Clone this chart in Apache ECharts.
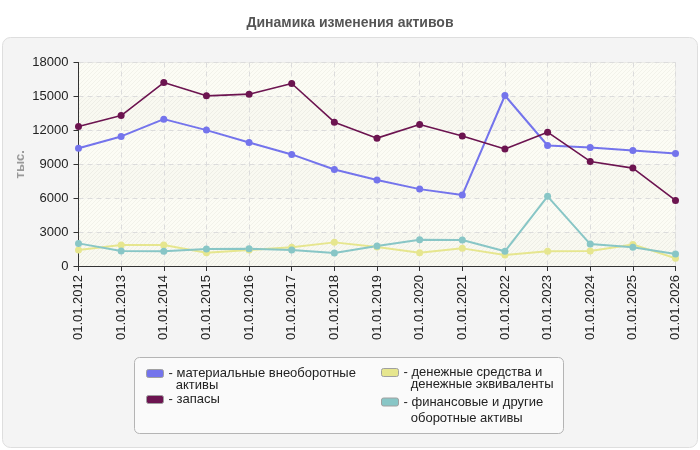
<!DOCTYPE html>
<html><head><meta charset="utf-8">
<script src="https://cdn.jsdelivr.net/npm/echarts@6/dist/echarts.min.js"></script>
<style>html,body{margin:0;padding:0;background:#fff}#c{width:700px;height:450px}</style>
</head><body><div id="c"></div>
<script>
var categories = ['01.01.2012','01.01.2013','01.01.2014','01.01.2015','01.01.2016','01.01.2017','01.01.2018','01.01.2019','01.01.2020','01.01.2021','01.01.2022','01.01.2023','01.01.2024','01.01.2025','01.01.2026'];
var seriesNames = ['материальные внеоборотные активы','запасы','денежные средства и денежные эквиваленты','финансовые и другие оборотные активы'];
var legendLabels = ['\n- материальные внеоборотные\n  активы','- запасы','\n- денежные средства и\n  денежные эквиваленты','\n- финансовые и другие\n  оборотные активы'];
var material = [10420, 11460, 12990, 12020, 10930, 9870, 8540, 7600, 6800, 6270, 15080, 10660, 10480, 10220, 9950];
var zapasy = [12340, 13310, 16230, 15050, 15200, 16140, 12720, 11310, 12520, 11490, 10340, 11840, 9250, 8660, 5800];
var cash = [1410, 1850, 1850, 1180, 1410, 1650, 2090, 1680, 1180, 1560, 970, 1300, 1320, 1910, 680];
var fin = [2000, 1320, 1300, 1500, 1530, 1410, 1150, 1770, 2330, 2300, 1300, 6160, 1940, 1650, 1060];
var yTicks = {min: 0, max: 18000, interval: 3000};
var colors = ['#7474ec', '#6c1450', '#e6e68e', '#88c6c6'];
var FONT = 'Liberation Sans, Arial, sans-serif';

function hatch(base, line) {
  var c = document.createElement('canvas'); c.width = 4; c.height = 4;
  var g = c.getContext('2d');
  g.fillStyle = base; g.fillRect(0, 0, 4, 4);
  g.strokeStyle = line; g.lineWidth = 1;
  g.beginPath(); g.moveTo(0, 4); g.lineTo(4, 0); g.moveTo(-1, 1); g.lineTo(1, -1); g.moveTo(3, 5); g.lineTo(5, 3); g.stroke();
  return {image: c, repeat: 'repeat'};
}

var chart = echarts.init(document.getElementById('c'), null, {renderer: 'canvas'});
var dataSets = [material, zapasy, cash, fin];
var series = dataSets.map(function (d, i) {
  return {
    name: seriesNames[i], type: 'line', data: d,
    symbol: 'circle', symbolSize: 7, showSymbol: true,
    lineStyle: {width: i === 1 ? 1.6 : 2, color: colors[i]},
    itemStyle: {color: colors[i]},
    emphasis: {disabled: true}, animation: false
  };
});

var legPos = [
  {left: 146, top: 355, lh: 12},
  {left: 146, top: 393, lh: 12},
  {left: 381, top: 354, lh: 12},
  {left: 381, top: 378, lh: 16}
];
var legends = seriesNames.map(function (n, i) {
  return {
    left: legPos[i].left, top: legPos[i].top, orient: 'vertical', padding: 0,
    itemWidth: 17, itemHeight: 8, itemGap: 0, selectedMode: false,
    icon: 'roundRect',
    itemStyle: {borderColor: '#a0a0a0', borderWidth: 1},
    formatter: function () { return legendLabels[i]; },
    data: [n],
    textStyle: {fontSize: 13, color: '#222', lineHeight: legPos[i].lh, fontFamily: FONT}
  };
});

chart.setOption({
  animation: false,
  color: colors,
  textStyle: {fontFamily: FONT},
  title: {text: 'Динамика изменения активов', left: 'center', top: 11,
    textStyle: {fontSize: 14, fontWeight: 'bold', color: '#555', fontFamily: FONT}},
  graphic: [
    {type: 'rect', z: -10, shape: {x: 2.5, y: 37.5, width: 695, height: 410, r: 8}, style: {fill: '#f4f4f4', stroke: '#dedede', lineWidth: 1}},
    {type: 'rect', z: -5, shape: {x: 134.5, y: 357.5, width: 429, height: 76, r: 5}, style: {fill: '#fafafa', stroke: '#b4b4b4', lineWidth: 1}}
  ],
  legend: legends,
  grid: {left: 78.5, right: 24.5, top: 62.5, bottom: 184, containLabel: false, outerBoundsMode: 'none',
    show: true, borderColor: '#dcdcdc', borderWidth: 1, backgroundColor: 'transparent'},
  xAxis: {
    type: 'category', data: categories, boundaryGap: false,
    axisLine: {lineStyle: {color: '#333', width: 1}},
    axisTick: {show: true, length: 5, lineStyle: {color: '#333'}},
    axisLabel: {rotate: 90, fontSize: 13, color: '#222', margin: 9, interval: 0},
    splitLine: {show: true, lineStyle: {color: '#dcdcdc', type: [5, 4]}}
  },
  yAxis: {
    type: 'value', min: yTicks.min, max: yTicks.max, interval: yTicks.interval,
    name: 'тыс.', nameLocation: 'middle', nameGap: 52, nameRotate: 90, nameMoveOverlap: false,
    nameTextStyle: {color: '#999', fontSize: 13, fontWeight: 'bold'},
    axisLine: {show: true, lineStyle: {color: '#333', width: 1}},
    axisTick: {show: true, length: 5, lineStyle: {color: '#333'}},
    axisLabel: {fontSize: 13, color: '#222', margin: 10, formatter: function (v) { return String(v); }},
    splitLine: {show: true, lineStyle: {color: '#dcdcdc', type: [5, 4]}},
    splitArea: {show: true, areaStyle: {color: [hatch('#f9f9f1', '#eeeee6'), hatch('#fcfcf5', '#f2f2ea')]}}
  },
  series: series
});
</script>
</body></html>
